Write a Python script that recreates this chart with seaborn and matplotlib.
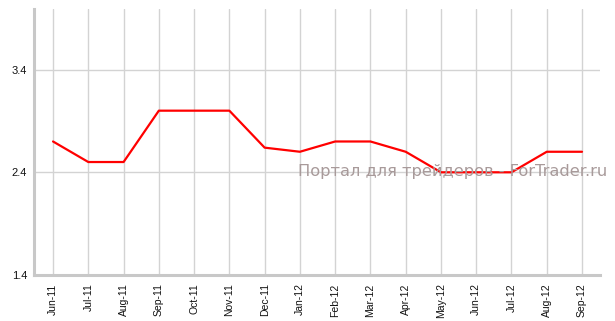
import matplotlib
matplotlib.use("Agg")
import matplotlib.pyplot as plt
import seaborn as sns
import pandas as pd

months = ["Jun-11", "Jul-11", "Aug-11", "Sep-11", "Oct-11", "Nov-11", "Dec-11", "Jan-12",
          "Feb-12", "Mar-12", "Apr-12", "May-12", "Jun-12", "Jul-12", "Aug-12", "Sep-12"]
values = [2.7, 2.5, 2.5, 3.0, 3.0, 3.0, 2.64, 2.6, 2.7, 2.7, 2.6, 2.4, 2.4, 2.4, 2.6, 2.6]
y_ticks = [1.4, 2.4, 3.4]
watermark = "Портал для трейдеров - ForTrader.ru"

sns.set_style("white")
plt.rcParams['font.family'] = ['Liberation Sans', 'DejaVu Sans']

df = pd.DataFrame({"month": months, "value": values, "pos": range(len(months))})

fig = plt.figure(figsize=(6.15, 3.21), dpi=100)
ax = fig.add_axes([34/615, 1-275/321, (600-34)/615, (275-9)/321])

sns.lineplot(data=df, x="pos", y="value", ax=ax, color="#ff0000", linewidth=1.6, zorder=3)

ax.set_xlim(-0.54, 15.51)
ax.set_ylim(1.4, 3.99)
ax.set_xticks(range(len(months)))
ax.set_xticklabels(months, rotation=90, fontsize=7.5)
ax.set_yticks(y_ticks)
ax.set_yticklabels([f"{t:.1f}" for t in y_ticks], fontsize=8)
ax.set_xlabel("")
ax.set_ylabel("")

ax.grid(True, color="#d3d3d3", linewidth=1.0, zorder=0)
ax.set_axisbelow(True)
for s in ["top", "right"]:
    ax.spines[s].set_visible(False)
for s in ["left", "bottom"]:
    ax.spines[s].set_color("#c8c8c8")
    ax.spines[s].set_linewidth(2.2)
ax.tick_params(axis="both", which="both", length=3, width=1, color="#aaaaaa",
               labelcolor="#111111", pad=2, direction="out")
ax.tick_params(axis="x", pad=3)

fig.text(298/615, 1-172/321, watermark, fontsize=11.7, color="#a89a9a",
         family=["DejaVu Sans"], ha="left", va="center", zorder=5)

fig.savefig("out.png", dpi=100)
